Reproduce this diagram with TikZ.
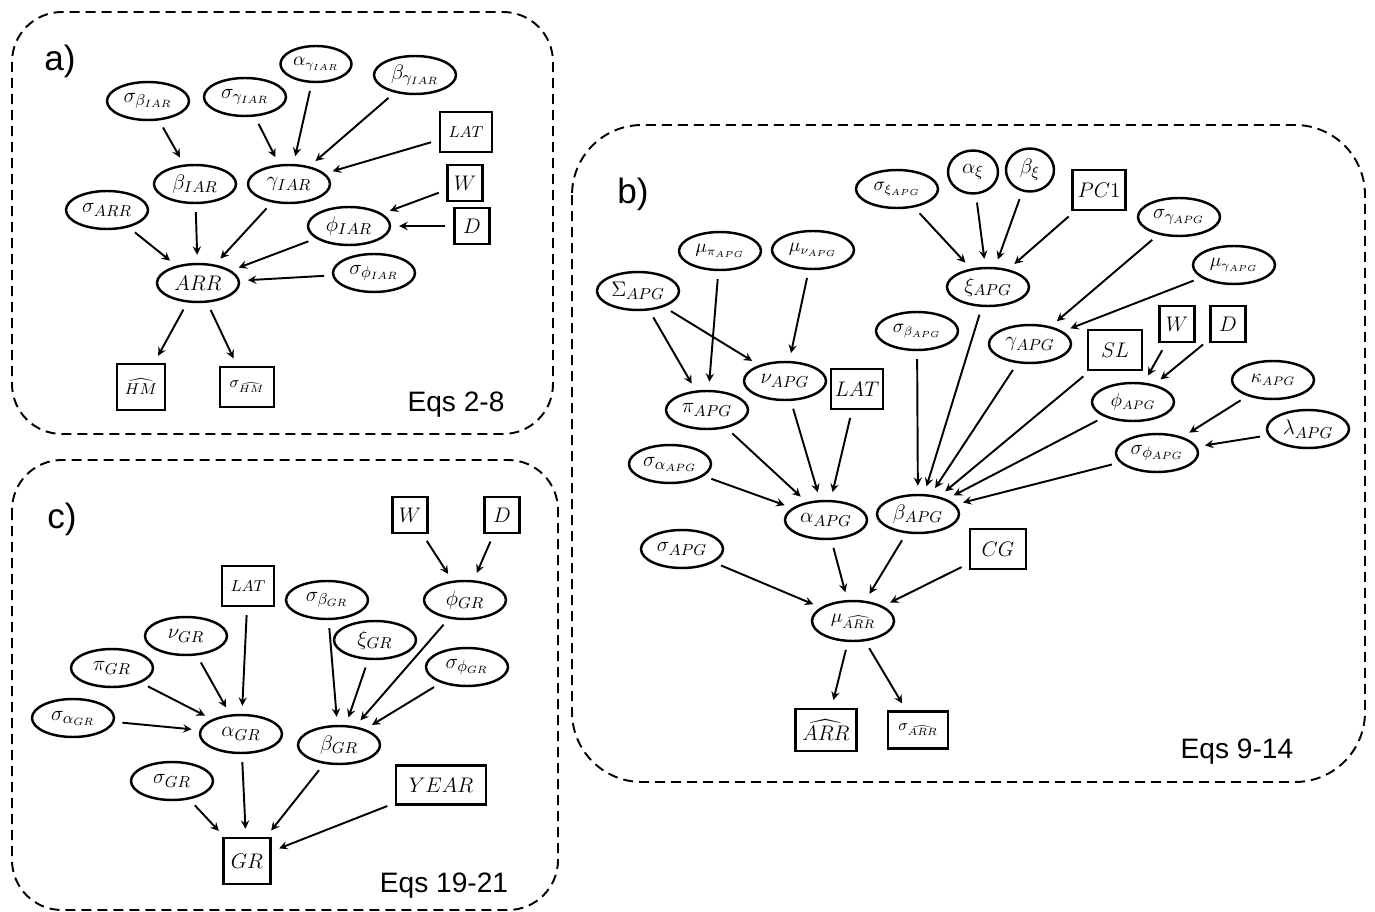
\documentclass[tikz,border=0pt]{standalone}
\usepackage{fontspec}
\usepackage{amsmath}
\usetikzlibrary{shapes.geometric}
\newfontfamily\panelfont{Liberation Sans}

\begin{document}
\begin{tikzpicture}[x=0.2mm, y=-0.2mm,
    var/.style={draw, ellipse, line width=1.4pt, minimum width=16.4mm, minimum height=7.6mm, inner sep=0.5pt, font=\fontsize{13}{15}\selectfont},
    smallvar/.style={var, font=\fontsize{10.5}{12}\selectfont},
    obs/.style={draw, rectangle, line width=1.4pt, minimum width=7mm, minimum height=7.2mm, inner sep=1.5pt, font=\fontsize{13}{15}\selectfont},
    edge/.style={-stealth, line width=1.1pt, shorten >=1.6mm, shorten <=1.6mm},
    panel/.style={draw, line width=1.1pt, dash pattern=on 2mm off 1.2mm},
    tag/.style={font=\panelfont\fontsize{20}{22}\selectfont},
    eqs/.style={font=\panelfont\fontsize{16}{18}\selectfont}]

\useasboundingbox (0,0) rectangle (1375,912);

% a) IAR model
\draw[panel, rounded corners=10mm] (12,12) rectangle (553,434);
\node[tag] (la) at (60,61) {a)};
\node[var] (sbI) at (148,101) {$\sigma_{\beta_{IAR}}$};
\node[var] (sgI) at (245,97) {$\sigma_{\gamma_{IAR}}$};
\node[smallvar, minimum width=14.2mm, minimum height=7.2mm] (agI) at (316,64) {$\alpha_{\gamma_{IAR}}$};
\node[var] (bgI) at (415,75) {$\beta_{\gamma_{IAR}}$};
\node[obs, minimum width=10.4mm, minimum height=8mm, font=\small] (latA) at (466,132) {$LAT$};
\node[var] (bI) at (195,184) {$\beta_{IAR}$};
\node[var] (gI) at (289,184) {$\gamma_{IAR}$};
\node[obs] (wA) at (465,183) {$W$};
\node[var] (sARR) at (107,210) {$\sigma_{ARR}$};
\node[var] (phI) at (349,226) {$\phi_{IAR}$};
\node[obs] (dA) at (472,226) {$D$};
\node[var] (arr) at (198,283) {$ARR$};
\node[var] (sphI) at (374,273) {$\sigma_{\phi_{IAR}}$};
\node[obs, minimum width=9.6mm, minimum height=9.2mm, font=\small] (hm) at (141,387) {$\widehat{HM}$};
\node[obs, minimum width=10.8mm, minimum height=8mm, font=\small] (shm) at (247,387) {$\sigma_{\widehat{HM}}$};
\node[eqs] (eqa) at (456,405) {Eqs 2-8};

\draw[edge] (sbI) -- (bI);
\draw[edge] (sgI) -- (gI);
\draw[edge] (agI) -- (gI);
\draw[edge] (bgI) -- (gI);
\draw[edge] (latA) -- (gI);
\draw[edge] (wA) -- (phI);
\draw[edge] (dA) -- (phI);
\draw[edge] (sARR) -- (arr);
\draw[edge] (bI) -- (arr);
\draw[edge] (gI) -- (arr);
\draw[edge] (phI) -- (arr);
\draw[edge] (sphI) -- (arr);
\draw[edge] (arr) -- (hm);
\draw[edge] (arr) -- (shm);

% b) APG model
\draw[panel, rounded corners=14mm] (572,125) rectangle (1365,782);
\node[tag] (lb) at (633,194) {b)};
\node[smallvar] (sxA) at (897,189) {$\sigma_{\xi_{APG}}$};
\node[var, minimum width=10mm, minimum height=8.6mm] (axi) at (973,172) {$\alpha_{\xi}$};
\node[var, minimum width=9.6mm, minimum height=8.6mm] (bxi) at (1030,170) {$\beta_{\xi}$};
\node[obs, minimum width=10.6mm, minimum height=8mm] (pc1) at (1099,190) {$PC1$};
\node[var] (sgA) at (1179,217) {$\sigma_{\gamma_{APG}}$};
\node[smallvar] (mpA) at (720,251) {$\mu_{\pi_{APG}}$};
\node[smallvar] (mnA) at (813,250) {$\mu_{\nu_{APG}}$};
\node[var] (SigA) at (638,291) {$\Sigma_{APG}$};
\node[var] (xA) at (988,287) {$\xi_{APG}$};
\node[smallvar] (mgA) at (1234,265) {$\mu_{\gamma_{APG}}$};
\node[smallvar] (sbA) at (917,331) {$\sigma_{\beta_{APG}}$};
\node[var] (gA) at (1030,344) {$\gamma_{APG}$};
\node[obs, minimum width=10.8mm, minimum height=8mm] (sl) at (1115,350) {$SL$};
\node[obs] (wB) at (1177,324) {$W$};
\node[obs] (dB) at (1228,324) {$D$};
\node[var] (nA) at (785,381) {$\nu_{APG}$};
\node[obs, minimum width=10.4mm, minimum height=8mm] (latB) at (857,389) {$LAT$};
\node[var] (pA) at (707,410) {$\pi_{APG}$};
\node[smallvar] (kA) at (1273,380) {$\kappa_{APG}$};
\node[smallvar] (phA) at (1133,402) {$\phi_{APG}$};
\node[var] (lA) at (1308,429) {$\lambda_{APG}$};
\node[var] (sphA) at (1157,453) {$\sigma_{\phi_{APG}}$};
\node[var] (saA) at (670,464) {$\sigma_{\alpha_{APG}}$};
\node[var] (aA) at (826,520) {$\alpha_{APG}$};
\node[var] (bA) at (918,514) {$\beta_{APG}$};
\node[var] (sA) at (682,549) {$\sigma_{APG}$};
\node[obs, minimum width=11.2mm, minimum height=8mm] (cg) at (998,549) {$CG$};
\node[smallvar, minimum height=8mm] (mu) at (853,621) {$\mu_{\widehat{ARR}}$};
\node[obs, minimum width=12.2mm, minimum height=8.4mm] (arrh) at (826,730) {$\widehat{ARR}$};
\node[obs, minimum width=12mm, minimum height=7.4mm, font=\small] (sarrh) at (918,730) {$\sigma_{\widehat{ARR}}$};
\node[eqs] (eqb) at (1237,752) {Eqs 9-14};

\draw[edge] (sxA) -- (xA);
\draw[edge] (axi) -- (xA);
\draw[edge] (bxi) -- (xA);
\draw[edge] (pc1) -- (xA);
\draw[edge] (sgA) -- (gA);
\draw[edge] (mgA) -- (gA);
\draw[edge] (mpA) -- (pA);
\draw[edge] (SigA) -- (pA);
\draw[edge] (SigA) -- (nA);
\draw[edge] (mnA) -- (nA);
\draw[edge] (wB) -- (phA);
\draw[edge] (dB) -- (phA);
\draw[edge] (kA) -- (sphA);
\draw[edge] (lA) -- (sphA);
\draw[edge] (pA) -- (aA);
\draw[edge] (nA) -- (aA);
\draw[edge] (latB) -- (aA);
\draw[edge] (saA) -- (aA);
\draw[edge] (sbA) -- (bA);
\draw[edge] (xA) -- (bA);
\draw[edge] (gA) -- (bA);
\draw[edge] (sl) -- (bA);
\draw[edge] (phA) -- (bA);
\draw[edge] (sphA) -- (bA);
\draw[edge] (sA) -- (mu);
\draw[edge] (aA) -- (mu);
\draw[edge] (bA) -- (mu);
\draw[edge] (cg) -- (mu);
\draw[edge] (mu) -- (arrh);
\draw[edge] (mu) -- (sarrh);

% c) GR model
\draw[panel, rounded corners=10mm] (12,460) rectangle (558,910);
\node[tag] (lc) at (62,519) {c)};
\node[obs] (wC) at (410,515) {$W$};
\node[obs] (dC) at (502,515) {$D$};
\node[obs, minimum width=10.4mm, minimum height=8mm, font=\small] (latC) at (248,586) {$LAT$};
\node[var] (sbG) at (327,600) {$\sigma_{\beta_{GR}}$};
\node[var] (phG) at (465,600) {$\phi_{GR}$};
\node[var] (nG) at (186,636) {$\nu_{GR}$};
\node[var] (xG) at (375,640) {$\xi_{GR}$};
\node[var] (pG) at (112,668) {$\pi_{GR}$};
\node[var] (sphG) at (467,667) {$\sigma_{\phi_{GR}}$};
\node[var] (saG) at (73,718) {$\sigma_{\alpha_{GR}}$};
\node[var] (aG) at (241,734) {$\alpha_{GR}$};
\node[var] (bG) at (339,745) {$\beta_{GR}$};
\node[var] (sG) at (172,781) {$\sigma_{GR}$};
\node[obs, minimum width=18mm, minimum height=7.8mm] (year) at (441,785) {$YEAR$};
\node[obs, minimum width=9.4mm, minimum height=9.2mm] (gr) at (247,861) {$GR$};
\node[eqs] (eqc) at (444,886) {Eqs 19-21};

\draw[edge] (wC) -- (phG);
\draw[edge] (dC) -- (phG);
\draw[edge] (latC) -- (aG);
\draw[edge] (nG) -- (aG);
\draw[edge] (pG) -- (aG);
\draw[edge] (saG) -- (aG);
\draw[edge] (sbG) -- (bG);
\draw[edge] (xG) -- (bG);
\draw[edge] (phG) -- (bG);
\draw[edge] (sphG) -- (bG);
\draw[edge] (sG) -- (gr);
\draw[edge] (aG) -- (gr);
\draw[edge] (bG) -- (gr);
\draw[edge] (year) -- (gr);
\end{tikzpicture}
\end{document}
